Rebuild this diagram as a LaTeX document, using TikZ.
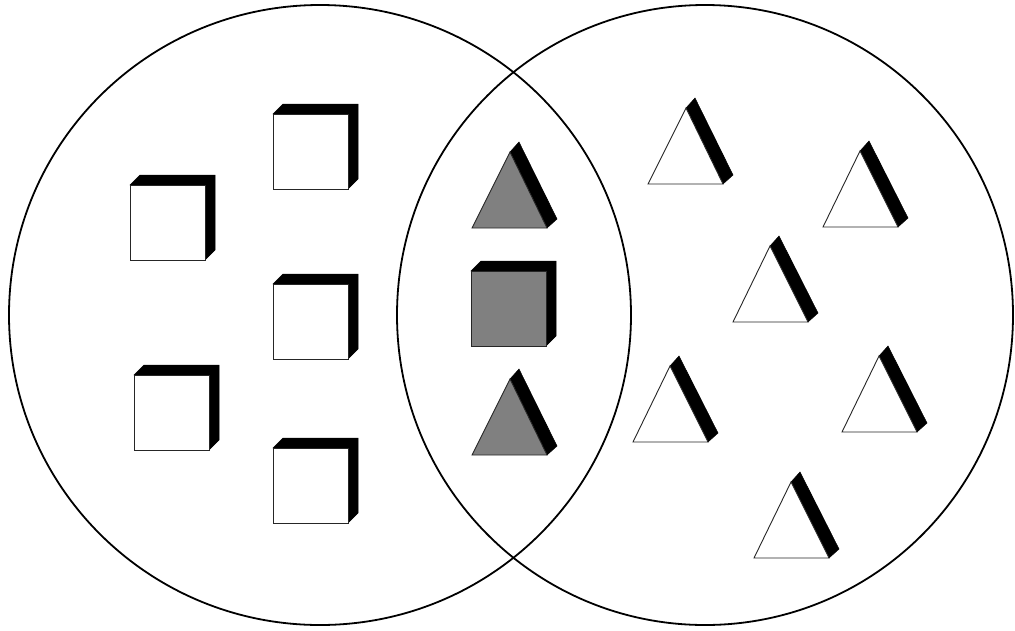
\documentclass[tikz,border=0pt]{standalone}
\begin{document}
\begin{tikzpicture}[x=1pt,y=-1pt,
  ring/.style={draw=black,line width=1.8pt},
  shade/.style={fill=black,draw=black,line width=0.5pt},
  face/.style={draw=black!85,line width=0.9pt}]
\useasboundingbox (0,0) rectangle (1015,630);
\fill[white] (0,0) rectangle (1015,630);
% cube: #1,#2 = front top-left; #3 = face colour
\newcommand\mycube[3]{%
  \fill[shade] (#1,#2) -- ++(10,-10) -- ++(75,0) -- ++(0,75) -- ++(-10,10) -- cycle;
  \draw[face,fill=#3] (#1,#2) rectangle ++(75,75);}
% triangle: #1 = base left x, #2 = base y, #3 = apex offset, #4 = colour
\newcommand\mytri[4]{%
  \fill[shade] (#1+#3,#2-76) -- ++(9,-10) -- (#1+75+10,#2-9) -- (#1+75,#2) -- cycle;
  \draw[face,fill=#4] (#1,#2) -- (#1+75,#2) -- (#1+#3,#2-76) -- cycle;}
\draw[ring] (320,315) ellipse [x radius=311,y radius=310];
\draw[ring] (705,315) ellipse [x radius=308,y radius=310];
\mycube{130}{185}{white}
\mycube{273}{114}{white}
\mycube{273}{284}{white}
\mycube{134}{375}{white}
\mycube{273}{448}{white}
\mycube{471}{271}{gray}
\mytri{648}{184}{38}{white}
\mytri{823}{227}{37}{white}
\mytri{733}{322}{37}{white}
\mytri{633}{442}{37}{white}
\mytri{842}{432}{37}{white}
\mytri{754}{558}{37}{white}
\mytri{472}{228}{38}{gray}
\mytri{472}{455}{38}{gray}
\end{tikzpicture}
\end{document}
